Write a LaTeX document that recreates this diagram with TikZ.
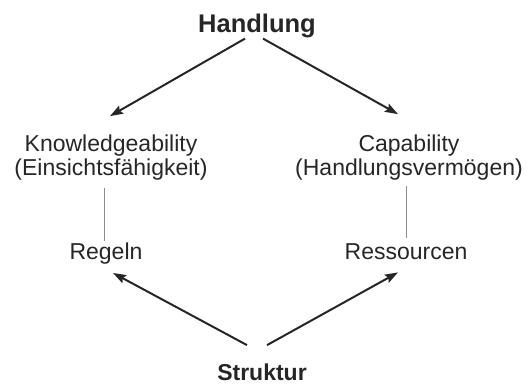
\documentclass[tikz,border=0pt]{standalone}
\usepackage{xcolor}
\usepackage{fontspec}
\setmainfont{Liberation Sans}
\usepackage{tikz}
\usetikzlibrary{arrows.meta}
\tikzset{
	MyLabel/.style={inner sep=0pt,anchor=base,text=black!85,
    font=\fontsize{23}{24}\selectfont},
	MyTitle/.style={MyLabel,font=\fontsize{23}{24}\selectfont\bfseries},
	MyArrow/.style={draw=black!85,line width=2pt,
    -{Stealth[length=13pt,width=9pt,inset=2pt]}},
	MyLink/.style={draw=black!45,line width=0.9pt}
		}
\begin{document}
\begin{tikzpicture}[x=1pt,y=1pt]
	\useasboundingbox (0,0) rectangle (529,385);
	% Handlung oben, Struktur unten
	\node[MyTitle,font=\fontsize{25.5}{26}\selectfont\bfseries] (handlung) at (257,352) {Handlung};
	\node[MyTitle] (struktur) at (262,5) {Struktur};
	% die beiden Seiten (base = letzte Zeile)
	\node[MyLabel,align=center] (know) at (111,209) {Knowledgeability\\(Einsichtsfähigkeit)};
	\node[MyLabel,align=center] (capa) at (409,209) {Capability\\(Handlungsvermögen)};
	\node[MyLabel] (regeln) at (106,125) {Regeln};
	\node[MyLabel] (ress) at (406,125) {Ressourcen};

	\draw[MyArrow] ([xshift=-12pt]handlung.south) -- ([shift={(-1pt,19pt)}]know.north);
	\draw[MyArrow] ([xshift=6pt]handlung.south) -- ([shift={(-11pt,21pt)}]capa.north);
	\draw[MyArrow] ([shift={(-15pt,18pt)}]struktur.north) -- ([shift={(7pt,-8pt)}]regeln.south);
	\draw[MyArrow] ([shift={(5pt,18pt)}]struktur.north) -- ([shift={(-8pt,-12pt)}]ress.south);

	\draw[MyLink] ([yshift=-7pt]know.south -| regeln.north) ++(-2pt,0) -- ([shift={(-2pt,2pt)}]regeln.north);
	\draw[MyLink] ([yshift=-5pt]capa.south -| ress.north) -- ([yshift=6pt]ress.north);
\end{tikzpicture}
\end{document}
